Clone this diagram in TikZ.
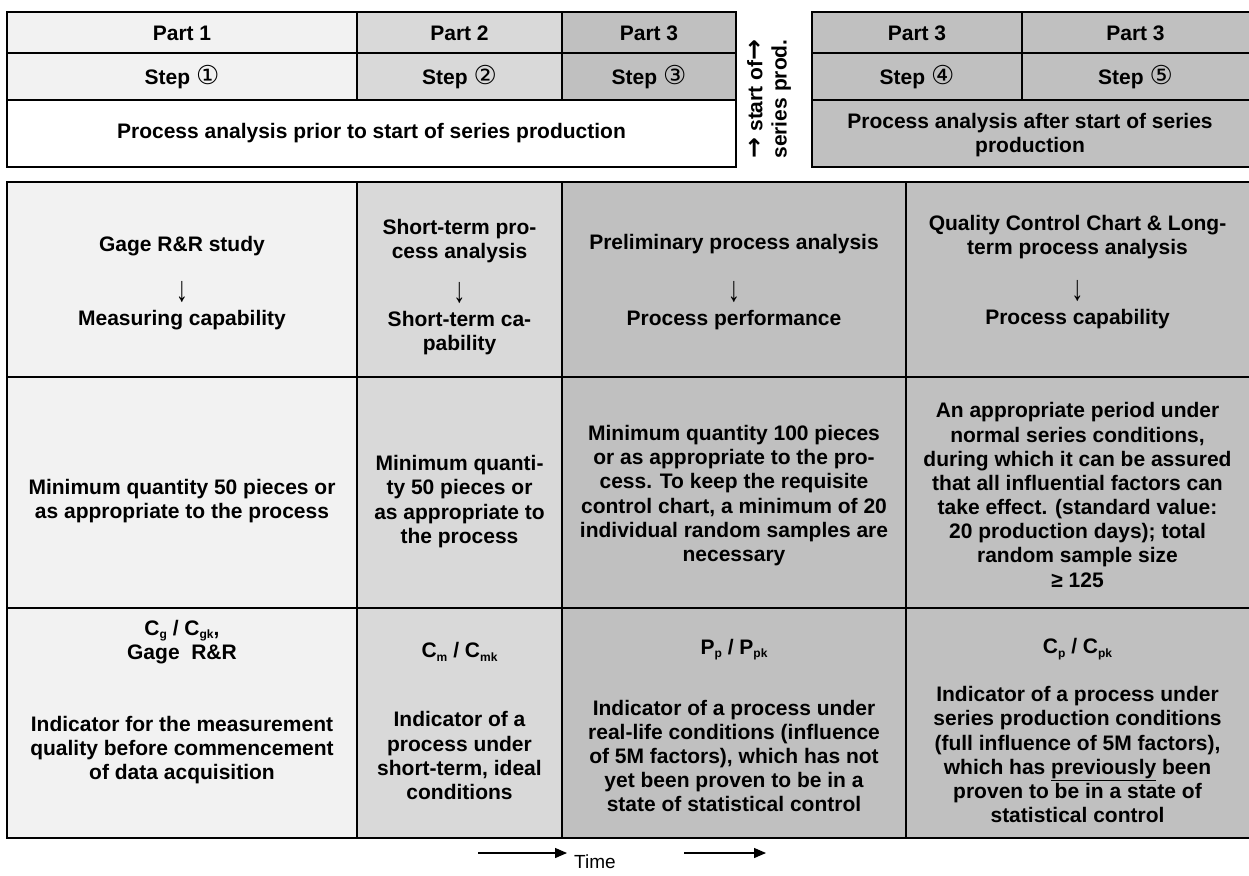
\documentclass[tikz,border=0pt]{standalone}
\usepackage{fontspec}
\usepackage{graphicx}
\setmainfont{Liberation Sans}
\newfontfamily\symf{DejaVu Sans}
\usetikzlibrary{arrows.meta}
\definecolor{gA}{HTML}{F2F2F2}
\definecolor{gB}{HTML}{D9D9D9}
\definecolor{gC}{HTML}{C0C0C0}
\newcommand\circd[1]{{\symf\mdseries\fontsize{26}{26}\selectfont #1}}
\newcommand\dn{{\mdseries\scalebox{1.15}[1.7]{↓}}}
\newcommand\rar{{\symf\bfseries\fontsize{25}{25}\selectfont →}}
\newcommand\subs[1]{\raisebox{-0.18em}{\fontsize{12}{12}\selectfont #1}}
\begin{document}
\begin{tikzpicture}[x=1pt,y=-1pt,
  txt/.style={font=\fontsize{21}{24.15}\selectfont\bfseries, align=center, inner sep=0pt},
  frame/.style={line width=2pt},
  grid/.style={line width=1.8pt},
  timearrow/.style={line width=1.3pt,-{Triangle[length=12pt,width=10pt]}}]
\useasboundingbox (0,0) rectangle (1249,875);
% fills
\fill[gA] (7,12) rectangle (357,100);
\fill[gB] (357,12) rectangle (562,100);
\fill[gC] (562,12) rectangle (736,100);
\fill[white] (7,100) rectangle (736,167);
\fill[gC] (812,12) rectangle (1252,167);
\fill[gA] (7,182) rectangle (357,838);
\fill[gB] (357,182) rectangle (562,838);
\fill[gC] (562,182) rectangle (1252,838);
% grid lines
\draw[grid] (7,53) -- (736,53) (7,100) -- (736,100) (357,12) -- (357,100) (562,12) -- (562,100);
\draw[grid] (812,53) -- (1252,53) (812,100) -- (1252,100) (1022,12) -- (1022,100);
\draw[grid] (7,377) -- (1252,377) (7,608) -- (1252,608)
  (357,182) -- (357,838) (562,182) -- (562,838) (906,182) -- (906,838);
\draw[frame] (7,12) rectangle (736,167);
\draw[frame] (812,12) rectangle (1252,167);
\draw[frame] (7,182) rectangle (1252,838);
% top left table
\node[txt] (p1) at (182,33) {Part 1};
\node[txt] (p2) at (459.5,33) {Part 2};
\node[txt] (p3) at (649,33) {Part 3};
\node[txt] (s1) at (182,77) {Step \circd{①}};
\node[txt] (s2) at (459.5,77) {Step \circd{②}};
\node[txt] (s3) at (649,77) {Step \circd{③}};
\node[txt] (pre) at (371.5,133) {Process analysis prior to start of series production};
% start of series production
\node[txt, rotate=90] (sop) at (769,99) {\rar{} start of\rar\\series prod.};
% top right table
\node[txt] (p4) at (917,33) {Part 3};
\node[txt] (p5) at (1135.5,33) {Part 3};
\node[txt] (s4) at (917,77) {Step \circd{④}};
\node[txt] (s5) at (1135.5,77) {Step \circd{⑤}};
\node[txt] (post) at (1030,135) {Process analysis after start of series\\production};
% main table row 1
\node[txt] (a1) at (182,283) {Gage R\&R study\\[24pt]\dn\\Measuring capability};
\node[txt] (a2) at (459.5,287) {Short-term pro-\\cess analysis\\[18pt]\dn\\Short-term ca-\\pability};
\node[txt] (a3) at (734,282) {Preliminary process analysis\\[26pt]\dn\\Process performance};
\node[txt] (a4) at (1077.5,272) {Quality Control Chart \& Long-\\term process analysis\\[20pt]\dn\\Process capability};
% row 2
\node[txt] (b1) at (182,501) {Minimum quantity 50 pieces or\\as appropriate to the process};
\node[txt] (b2) at (459.5,501.5) {Minimum quanti-\\ty 50 pieces or\\as appropriate to\\the process};
\node[txt] (b3) at (734,495.5) {Minimum quantity 100 pieces\\or as appropriate to the pro-\\cess. To keep the requisite\\control chart, a minimum of 20\\individual random samples are\\necessary};
\node[txt] (b4) at (1077.5,495) {An appropriate period under\\normal series conditions,\\during which it can be assured\\that all influential factors can\\take effect. (standard value:\\20 production days); total\\random sample size\\≥ 125};
% row 3
\node[txt] (c1) at (182,702) {C\subs{g} / C\subs{gk},\\Gage~~R\&R\\[48pt]Indicator for the measurement\\quality before commencement\\of data acquisition};
\node[txt] (c2) at (459.5,721) {C\subs{m} / C\subs{mk}\\[45pt]Indicator of a\\process under\\short-term, ideal\\conditions};
\node[txt] (c3) at (734,725.5) {P\subs{p} / P\subs{pk}\\[37pt]Indicator of a process under\\real-life conditions (influence\\of 5M factors), which has not\\yet been proven to be in a\\state of statistical control};
\node[txt] (c4) at (1077.5,730.5) {C\subs{p} / C\subs{pk}\\[24pt]Indicator of a process under\\series production conditions\\(full influence of 5M factors),\\which has \underline{previously} been\\proven to be in a state of\\statistical control};
% time axis
\coordinate (t1s) at (478,853);
\coordinate (t1e) at (567,853);
\coordinate (t2s) at (684,853);
\coordinate (t2e) at (766,853);
\draw[timearrow] (t1s) -- (t1e);
\draw[timearrow] (t2s) -- (t2e);
\node[font=\fontsize{19}{19}\selectfont, anchor=west, inner sep=0pt] (time) at (574,862) {Time};
\end{tikzpicture}
\end{document}
